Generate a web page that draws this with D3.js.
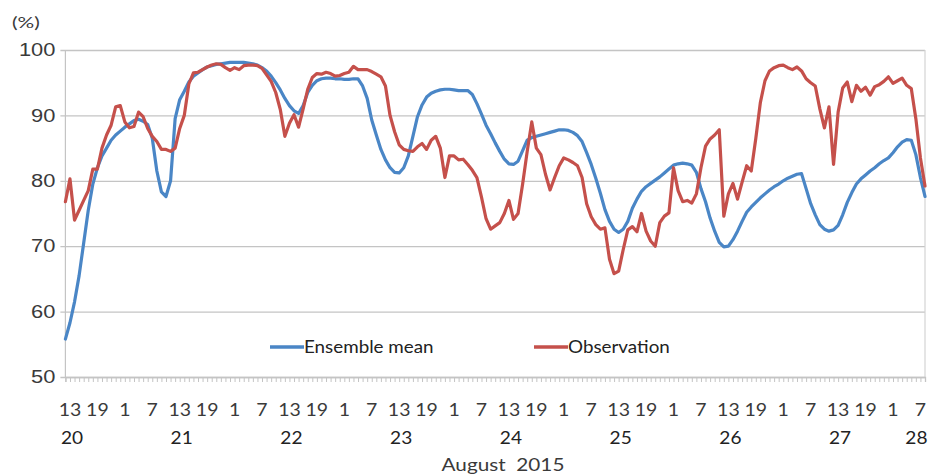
<!DOCTYPE html>
<html>
<head>
<meta charset="utf-8">
<script src="https://cdn.jsdelivr.net/npm/d3@7"></script>
<style>
  html, body { margin: 0; padding: 0; background: #fff; }
  svg { display: block; font-family: Lato, "Open Sans", sans-serif; }
</style>
</head>
<body>
<svg id="chart" width="930" height="476"></svg>
<script>
// Hourly relative humidity (%), from 20 Aug 12:00 to 28 Aug 08:00
const startHour = 12;            // clock hour of the first value
const ensembleMean = [
  55.8, 58.3, 61.5, 65.5, 70.5, 75.5, 79.5, 82.0, 83.8, 85.0,
  86.2, 87.0, 87.6, 88.2, 88.7, 89.2, 89.4, 89.1, 88.6, 86.5,
  81.5, 78.3, 77.6, 80.0, 89.5, 92.4, 93.7, 95.1, 96.0, 96.5,
  97.0, 97.4, 97.6, 97.8, 97.9, 98.0, 98.1, 98.1, 98.1, 98.1,
  98.0, 97.9, 97.7, 97.3, 96.8, 96.0, 95.0, 93.9, 92.6, 91.5,
  90.7, 90.3, 91.5, 93.5, 94.6, 95.3, 95.6, 95.7, 95.7, 95.6,
  95.6, 95.5, 95.5, 95.6, 95.6, 94.5, 92.6, 89.3, 87.0, 84.8,
  83.2, 82.0, 81.3, 81.2, 82.0, 83.8, 86.8, 89.8, 91.6, 92.8,
  93.4, 93.7, 93.9, 94.0, 94.0, 93.9, 93.8, 93.8, 93.8, 93.2,
  91.8, 90.2, 88.5, 87.2, 85.8, 84.5, 83.3, 82.6, 82.5, 83.0,
  84.6, 86.2, 86.6, 86.8, 87.0, 87.2, 87.4, 87.6, 87.8, 87.8,
  87.7, 87.4, 86.9, 86.0, 84.3, 82.5, 80.4, 78.1, 75.6, 73.8,
  72.6, 72.1, 72.6, 73.8, 75.8, 77.2, 78.4, 79.1, 79.6, 80.1,
  80.6, 81.2, 81.8, 82.4, 82.6, 82.7, 82.6, 82.4, 81.3, 78.8,
  76.8, 74.3, 72.3, 70.6, 69.9, 70.0, 71.0, 72.3, 73.8, 75.2,
  76.0, 76.7, 77.4, 78.0, 78.6, 79.1, 79.5, 80.0, 80.4, 80.7,
  81.0, 81.1, 78.8, 76.5, 74.8, 73.3, 72.6, 72.3, 72.5, 73.2,
  74.8, 76.7, 78.2, 79.5, 80.3, 80.9, 81.5, 82.0, 82.6, 83.1,
  83.5, 84.3, 85.2, 85.9, 86.3, 86.2, 84.0, 80.5, 77.6
];
const observation = [
  76.8, 80.3, 74.0, 75.5, 77.0, 78.5, 81.8, 81.8, 85.0, 87.0,
  88.5, 91.3, 91.5, 89.0, 88.1, 88.3, 90.5, 89.8, 88.0, 86.8,
  86.0, 84.8, 84.8, 84.5, 85.0, 88.0, 90.0, 94.8, 96.5, 96.6,
  97.0, 97.4, 97.7, 97.9, 97.8, 97.3, 96.9, 97.3, 97.0, 97.6,
  97.7, 97.7, 97.6, 97.2, 96.2, 95.2, 93.5, 90.9, 86.8, 88.8,
  90.1, 88.2, 91.0, 94.0, 95.8, 96.4, 96.3, 96.6, 96.4, 96.0,
  96.1, 96.4, 96.6, 97.5, 97.0, 97.0, 97.0, 96.7, 96.3, 95.9,
  94.5, 90.0, 87.5, 85.5, 84.8, 84.6, 84.5, 85.2, 85.7, 84.8,
  86.2, 86.8, 85.0, 80.5, 83.8, 83.8, 83.2, 83.3, 82.5, 81.6,
  80.5, 77.5, 74.2, 72.6, 73.1, 73.6, 75.0, 77.0, 74.1, 75.0,
  79.5, 84.5, 89.0, 85.0, 84.0, 81.0, 78.6, 80.5, 82.3, 83.5,
  83.2, 82.8, 82.3, 80.5, 76.5, 74.5, 73.3, 72.6, 72.8, 68.0,
  65.8, 66.2, 69.5, 72.5, 73.0, 72.2, 75.0, 72.3, 70.8, 70.0,
  73.6, 74.6, 75.1, 82.0, 78.5, 76.8, 77.0, 76.6, 78.0, 82.0,
  85.3, 86.4, 87.0, 87.8, 74.6, 78.0, 79.6, 77.2, 79.8, 82.3,
  81.5, 86.5, 92.0, 95.3, 96.8, 97.3, 97.6, 97.7, 97.3, 97.0,
  97.4, 96.8, 95.6, 95.0, 94.5, 91.0, 88.1, 91.3, 82.5, 90.5,
  94.2, 95.1, 92.1, 94.6, 93.7, 94.3, 93.1, 94.4, 94.7, 95.2,
  95.9, 94.9, 95.3, 95.7, 94.6, 94.1, 89.5, 83.5, 79.2
];
const hourLabels = ["13", "19", "1", "7"];
const dayLabels = ["20", "21", "22", "23", "24", "25", "26", "27", "28"];
const yTicks = [50, 60, 70, 80, 90, 100];
const seriesNames = ["Ensemble mean", "Observation"];
const seriesColors = ["#4a86c6", "#c5504b"];
const axisTitle = "August\u00a0\u00a02015";
const unitLabel = "(%)";

const svg = d3.select("#chart");
const N = ensembleMean.length;
const plot = { left: 65.4, right: 925, top: 50, bottom: 377 };

const x = d3.scaleLinear().domain([0, N - 1]).range([plot.left, plot.right]);
const y = d3.scaleLinear().domain([50, 100]).range([plot.bottom, plot.top]);

const textColor = "#3a3a3a";
const gridColor = "#c4c4c4";

// widen a text horizontally by a factor (the labels use a broad face)
function widen(sel, factor) {
  sel.each(function () {
    const w = this.getComputedTextLength();
    d3.select(this).attr("textLength", w * factor).attr("lengthAdjust", "spacingAndGlyphs");
  });
}

// horizontal gridlines with short ticks on the left
const yAxis = d3.axisLeft(y).tickValues(yTicks)
  .tickSize(0).tickPadding(10).tickFormat(d3.format("d"));
const gy = svg.append("g").attr("transform", `translate(${plot.left},0)`).call(yAxis);
gy.select(".domain").remove();
gy.selectAll(".tick line").remove();
gy.selectAll(".tick").append("line")
  .attr("x1", -5).attr("x2", plot.right - plot.left)
  .attr("stroke", gridColor).attr("stroke-width", 1.3);
gy.selectAll(".tick text").attr("fill", textColor).style("font-size", "17.5px")
  .call(widen, 1.25);

// plot frame: left and right edges
svg.append("line").attr("x1", plot.left).attr("x2", plot.left)
  .attr("y1", plot.top).attr("y2", plot.bottom).attr("stroke", gridColor).attr("stroke-width", 1.2);
svg.append("line").attr("x1", plot.right).attr("x2", plot.right)
  .attr("y1", plot.top).attr("y2", plot.bottom).attr("stroke", "#d4d4d4").attr("stroke-width", 1.2);

// hourly minor ticks on the time axis
const gx = svg.append("g").attr("transform", `translate(0,${plot.bottom})`)
  .call(d3.axisBottom(x).tickValues(d3.range(0, N)).tickSize(5).tickFormat(""));
gx.select(".domain").attr("stroke", gridColor).attr("stroke-width", 1.3);
gx.selectAll(".tick line").attr("stroke", gridColor);

// clock-hour labels every 6 hours (13, 19, 1, 7)
const labelIdx = d3.range(0, N).filter(i => hourLabels.includes(String((startHour + i) % 24)));
svg.append("g").selectAll("text").data(labelIdx).join("text")
  .attr("x", i => x(i)).attr("y", 415.5)
  .attr("text-anchor", "middle").attr("fill", textColor).style("font-size", "16.5px")
  .text(i => String((startHour + i) % 24))
  .call(widen, 1.18);

// day-of-month labels under the 13 h label of each day
svg.append("g").selectAll("text").data(dayLabels).join("text")
  .attr("x", (d, k) => 1 + 24 * k < N - 2 ? x(1 + 24 * k) + 2 : x(N - 2) - 4)
  .attr("y", 444)
  .attr("text-anchor", "middle").attr("fill", "#222").style("font-size", "18px")
  .text(d => d)
  .call(widen, 1.06);

svg.append("text").attr("x", 503).attr("y", 471).attr("text-anchor", "middle")
  .attr("fill", textColor).style("font-size", "17px").style("white-space", "pre")
  .text(axisTitle)
  .call(widen, 1.22);

svg.append("text").attr("x", 12).attr("y", 28).attr("fill", textColor)
  .style("font-size", "16px").text(unitLabel)
  .call(widen, 1.3);

// series lines
const line = d3.line().x((d, i) => x(i)).y(d => y(d)).curve(d3.curveLinear);
[ensembleMean, observation].forEach((vals, k) => {
  svg.append("path").datum(vals).attr("d", line)
    .attr("fill", "none").attr("stroke", seriesColors[k])
    .attr("stroke-width", 3.2).attr("stroke-linejoin", "round").attr("stroke-linecap", "round");
});

// legend
const legendX = [270, 534];
seriesNames.forEach((name, k) => {
  const g = svg.append("g").attr("transform", `translate(${legendX[k]},347)`);
  g.append("line").attr("x1", 0).attr("x2", 34).attr("stroke", seriesColors[k]).attr("stroke-width", 3.4);
  g.append("text").attr("x", 34).attr("y", 6).attr("fill", "#222")
    .style("font-size", "16.5px").text(name)
    .call(widen, 1.14);
});
</script>
</body>
</html>
